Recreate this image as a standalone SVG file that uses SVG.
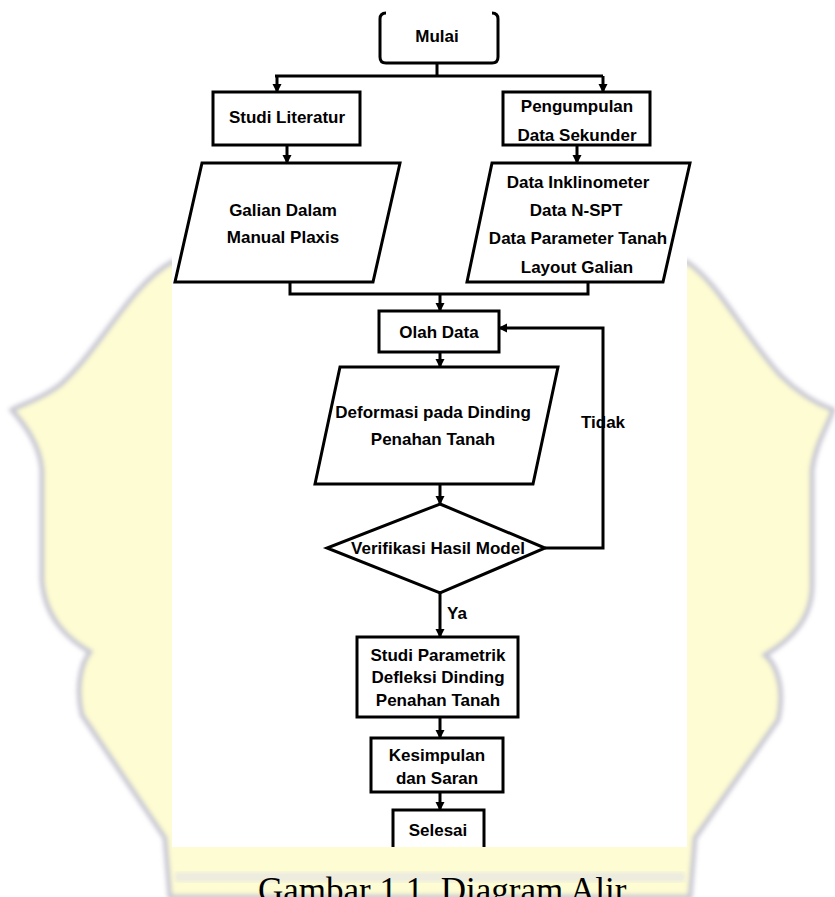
<svg xmlns="http://www.w3.org/2000/svg" width="835" height="897" viewBox="0 0 835 897">
<defs>
<style>
.shape{fill:none;stroke:#000;stroke-width:3;stroke-linejoin:miter}
.conn{fill:none;stroke:#000;stroke-width:3}
.lbl{font-family:"Liberation Sans",Arial,sans-serif;font-size:17px;font-weight:bold;fill:#000;text-anchor:middle}
</style>
<marker id="arr" markerWidth="10" markerHeight="10" refX="8" refY="5" orient="auto" markerUnits="userSpaceOnUse">
<path d="M0,0.5 L9,5 L0,9.5 Z" fill="#000"/>
</marker>
<filter id="blur" x="-10%" y="-10%" width="120%" height="120%">
<feGaussianBlur stdDeviation="2"/>
</filter>
</defs>
<rect x="0" y="0" width="835" height="897" fill="#fff"/>
<g id="watermark">
<path d="M172,262 C130,285 100,350 60,385 C40,400 20,405 12,410 C25,425 40,445 42,470 L42,580 C45,620 70,640 90,652 C80,665 76,690 82,715 L165,838 L170,897 L690,897 L695,838 L778,720 C784,695 780,668 765,655 C790,640 812,620 812,585 L812,470 C815,445 828,425 833,410 C820,405 800,395 780,375 C740,330 720,285 687,262 Z" fill="#fefcd2" stroke="#c8c8d4" stroke-width="5" filter="url(#blur)"/>
<rect x="175" y="872" width="510" height="10" fill="#e4e4e4" opacity="0.7" filter="url(#blur)"/>
</g>
<rect x="172" y="0" width="515" height="847" fill="#fff"/>
<g id="connectors">
<path class="conn" d="M437,63 V76 M275,76 H603"/>
<path class="conn" d="M277,76 V92" marker-end="url(#arr)"/>
<path class="conn" d="M603,76 V92" marker-end="url(#arr)"/>
<path class="conn" d="M287,145 V163" marker-end="url(#arr)"/>
<path class="conn" d="M577,145 V163" marker-end="url(#arr)"/>
<path class="conn" d="M290,282 V294 H588 V282"/>
<path class="conn" d="M440,294 V311" marker-end="url(#arr)"/>
<path class="conn" d="M440,352 V367" marker-end="url(#arr)"/>
<path class="conn" d="M440,484 V504" marker-end="url(#arr)"/>
<path class="conn" d="M545,548 H603 V328 H499" marker-end="url(#arr)"/>
<path class="conn" d="M440,593 V637" marker-end="url(#arr)"/>
<path class="conn" d="M440,717 V738" marker-end="url(#arr)"/>
<path class="conn" d="M440,792 V810" marker-end="url(#arr)"/>
<text class="lbl" x="603" y="428">Tidak</text>
<text class="lbl" x="457" y="619">Ya</text>
</g>
<g id="mulai">
<path class="shape" d="M386,13 Q380,13 380,19 L380,57 Q380,63 386,63 L492,63 Q498,63 498,57 L498,19 Q498,13 492,13"/>
<text class="lbl" x="437" y="42">Mulai</text>
</g>
<g id="studi-literatur">
<rect class="shape" x="213" y="92" width="147" height="53"/>
<text class="lbl" x="287" y="123">Studi Literatur</text>
</g>
<g id="pengumpulan-data">
<rect class="shape" x="503" y="92" width="147" height="53"/>
<text class="lbl" x="577" y="112">Pengumpulan</text>
<text class="lbl" x="577" y="141">Data Sekunder</text>
</g>
<g id="galian-dalam">
<path class="shape" d="M202,163 L400,163 L373,282 L175,282 Z"/>
<text class="lbl" x="283" y="216">Galian Dalam</text>
<text class="lbl" x="283" y="243">Manual Plaxis</text>
</g>
<g id="data-sekunder">
<path class="shape" d="M492,163 L690,163 L663,282 L467,282 Z"/>
<text class="lbl" x="578" y="188">Data Inklinometer</text>
<text class="lbl" x="576" y="216">Data N-SPT</text>
<text class="lbl" x="578" y="244">Data Parameter Tanah</text>
<text class="lbl" x="577" y="273">Layout Galian</text>
</g>
<g id="olah-data">
<rect class="shape" x="379" y="311" width="120" height="41"/>
<text class="lbl" x="439" y="338">Olah Data</text>
</g>
<g id="deformasi">
<path class="shape" d="M340,367 L558,367 L533,484 L315,484 Z"/>
<text class="lbl" x="433" y="418">Deformasi pada Dinding</text>
<text class="lbl" x="433" y="445">Penahan Tanah</text>
</g>
<g id="verifikasi">
<path class="shape" d="M440,504 L545,548 L440,593 L327,548 Z"/>
<text class="lbl" x="438" y="554">Verifikasi Hasil Model</text>
</g>
<g id="studi-parametrik">
<rect class="shape" x="357" y="637" width="161" height="80"/>
<text class="lbl" x="438" y="661">Studi Parametrik</text>
<text class="lbl" x="438" y="683">Defleksi Dinding</text>
<text class="lbl" x="438" y="706">Penahan Tanah</text>
</g>
<g id="kesimpulan">
<rect class="shape" x="371" y="738" width="132" height="54"/>
<text class="lbl" x="437" y="761">Kesimpulan</text>
<text class="lbl" x="437" y="784">dan Saran</text>
</g>
<g id="selesai">
<path class="shape" d="M393,847 V810 H484 V847"/>
<text class="lbl" x="438" y="836">Selesai</text>
</g>
<text x="258" y="902" font-family="'Liberation Serif','Times New Roman',serif" font-size="35" fill="#000">Gambar 1.1. Diagram Alir</text>
</svg>
